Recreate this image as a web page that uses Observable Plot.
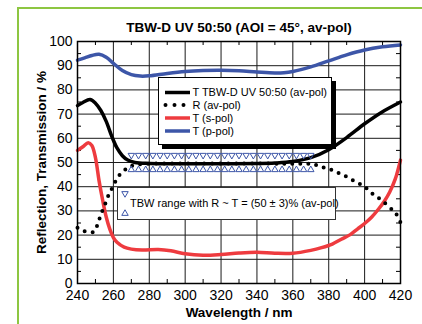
<!DOCTYPE html>
<html>
<head>
<meta charset="utf-8">
<script src="https://cdn.jsdelivr.net/npm/d3@7"></script>
<script src="https://cdn.jsdelivr.net/npm/@observablehq/plot@0.6"></script>
<style>
  html, body { margin: 0; padding: 0; background: #fff; }
  #wrap { position: relative; width: 422px; height: 324px; overflow: hidden; font-family: "Liberation Sans", Arial, sans-serif; }
  #green { position: absolute; left: 17px; top: 7px; width: 500px; height: 400px; border-left: 2px solid #8dc641; border-top: 2px solid #8dc641; }
  #wrap svg { position: absolute; left: 0; top: 0; }
</style>
</head>
<body>
<div id="wrap"><div id="green"></div></div>
<script>
// ---- Data ----
const TITLE = "TBW-D UV 50:50 (AOI = 45°, av-pol)";
const X_LABEL = "Wavelength / nm";
const Y_LABEL = "Reflection, Transmission / %";
const X_TICKS = [240, 260, 280, 300, 320, 340, 360, 380, 400, 420];
const Y_TICKS = [0, 10, 20, 30, 40, 50, 60, 70, 80, 90, 100];
const X_MINOR = [250, 270, 290, 310, 330, 350, 370, 390, 410];
const Y_MINOR = [5, 15, 25, 35, 45, 55, 65, 75, 85, 95];

// T TBW-D UV 50:50 (av-pol)
const tWl = [240, 243, 247, 250, 253, 256, 259, 262, 265, 268, 272, 280, 300, 320, 340, 350, 360, 370, 380, 390, 400, 410, 420];
const tAv = [73.5, 74.8, 76, 74.5, 71.5, 67, 61, 56, 52.8, 51, 50, 49.6, 49.5, 49.5, 49.6, 49.8, 50.4, 52, 55.3, 60.3, 66, 71, 75];

// R (av-pol)
const rWl = [240, 242, 245, 249, 251, 253, 255, 257, 259, 261, 263, 265, 268, 272, 280, 300, 330, 360, 368, 372, 376, 380, 384, 388, 392, 396, 400, 404, 408, 412, 416, 418, 420];
const rAv = [23, 22.3, 21.3, 21.3, 24, 28.5, 32, 36, 39, 42, 44.5, 46, 47.8, 49, 49.5, 49.6, 49.6, 49.5, 49.5, 49.2, 48.1, 47.5, 46.1, 44.9, 43.2, 41.7, 40, 37.3, 35.2, 32.8, 30, 28.3, 25.3];

// T (s-pol)
const sWl = [240, 243, 246, 248, 250, 252, 254, 256, 258, 260, 262, 266, 270, 276, 285, 292, 300, 310, 320, 330, 340, 350, 360, 370, 376, 382, 387, 392, 396, 400, 404, 408, 411, 414, 417, 420];
const sT = [55, 56.5, 58.2, 57, 52, 42.5, 34.5, 27.5, 22.5, 19, 17, 15, 14.2, 13.8, 14, 13.5, 12.3, 11.7, 12, 12.6, 12.9, 12.5, 12.5, 13.7, 14.8, 16.3, 18.3, 20.2, 22.5, 24.8, 27.5, 31, 34, 37.8, 43, 51];

// T (p-pol)
const pWl = [240, 244, 248, 252, 256, 260, 265, 270, 275, 280, 290, 300, 310, 320, 330, 340, 350, 355, 360, 370, 380, 390, 400, 410, 420];
const pT = [92.3, 93.2, 94.2, 94.7, 93.5, 91, 88, 86.3, 85.7, 85.8, 86.8, 87.6, 88, 88.1, 87.9, 87.4, 87, 87.1, 87.6, 89.5, 92, 94.5, 96.5, 97.8, 98.6];

// TBW range markers (R ~ T = 50 ± 3 %)
const tbwWl = [270, 274, 278, 282, 286, 290, 294, 298, 302, 306, 310, 314, 318, 322, 326, 330, 334, 338, 342, 346, 350, 354, 358, 362, 366, 370];
const tbwUpper = 53;
const tbwLower = 47;

const LEGEND1 = ["T TBW-D UV 50:50 (av-pol)", "R (av-pol)", "T (s-pol)", "T (p-pol)"];
const LEGEND2 = "TBW range with R ~ T = (50 ± 3)% (av-pol)";

// ---- Build tables ----
const zip = (xs, ys) => xs.map((x, i) => ({x, y: ys[i]}));
const tData = zip(tWl, tAv);
const rData = zip(rWl, rAv);
const sData = zip(sWl, sT);
const pData = zip(pWl, pT);
const upData = tbwWl.map(x => ({x, y: tbwUpper}));
const loData = tbwWl.map(x => ({x, y: tbwLower}));

const BLUE = "#3d56a8";
const RED = "#ee3b3f";
const GRID = "#1a1a1a";

const chart = Plot.plot({
  width: 422,
  height: 324,
  marginLeft: 77,
  marginRight: 22,
  marginTop: 41,
  marginBottom: 41,
  style: {fontFamily: "'Liberation Sans', Arial, sans-serif", fontSize: "14px", color: "#000", background: "transparent"},
  x: {domain: [240, 420]},
  y: {domain: [0, 100]},
  marks: [
    Plot.ruleX(X_TICKS.slice(1, -1), {stroke: GRID, strokeWidth: 1}),
    Plot.ruleY(Y_TICKS.slice(1, -1), {stroke: GRID, strokeWidth: 1}),
    Plot.ruleX(X_MINOR, {x: d => d, y1: 0, y2: 0, insetTop: -4, stroke: "#000", strokeWidth: 1}),
    Plot.ruleX(X_MINOR, {x: d => d, y1: 100, y2: 100, insetBottom: -4, stroke: "#000", strokeWidth: 1}),
    Plot.ruleY(Y_MINOR, {y: d => d, x1: 240, x2: 240, insetRight: -4, stroke: "#000", strokeWidth: 1}),
    Plot.ruleY(Y_MINOR, {y: d => d, x1: 420, x2: 420, insetLeft: -4, stroke: "#000", strokeWidth: 1}),
    Plot.axisX(X_TICKS, {tickSize: 0, tickPadding: 7, fontSize: 14, label: null}),
    Plot.axisY(Y_TICKS, {tickSize: 0, tickPadding: 5, fontSize: 14, label: null}),
    Plot.line(pData, {x: "x", y: "y", stroke: BLUE, strokeWidth: 3.5, curve: "catmull-rom"}),
    Plot.line(sData, {x: "x", y: "y", stroke: RED, strokeWidth: 3.5, curve: "catmull-rom"}),
    Plot.line(tData, {x: "x", y: "y", stroke: "#000", strokeWidth: 3.5, curve: "catmull-rom"}),
    Plot.line(rData, {x: "x", y: "y", stroke: "#000", strokeWidth: 4, strokeDasharray: "0 8", strokeLinecap: "round", curve: "catmull-rom"}),
    Plot.dot(upData, {x: "x", y: "y", symbol: "triangle", rotate: 180, r: 2.4, stroke: BLUE, strokeWidth: 1, fill: "none"}),
    Plot.dot(loData, {x: "x", y: "y", symbol: "triangle", r: 2.4, stroke: BLUE, strokeWidth: 1, fill: "none"}),
    Plot.frame({stroke: "#000", strokeWidth: 1.5}),
    Plot.text([TITLE], {frameAnchor: "top", dy: -14, fontSize: 13.5, fontWeight: "bold", lineAnchor: "middle"}),
    Plot.text([X_LABEL], {frameAnchor: "bottom", dy: 29, fontSize: 13.5, fontWeight: "bold", lineAnchor: "middle"}),
    Plot.text([Y_LABEL], {frameAnchor: "left", dx: -36, rotate: -90, textAnchor: "middle", fontSize: 13.5, fontWeight: "bold", lineAnchor: "middle"})
  ]
});

document.getElementById("wrap").appendChild(chart);

// ---- Legends ----
const svg = d3.select(chart);
const g1 = svg.append("g").attr("font-size", 11).attr("text-anchor", "start").attr("font-family", "'Liberation Sans', Arial, sans-serif");
g1.append("rect").attr("x", 162).attr("y", 81).attr("width", 174).attr("height", 68).attr("fill", "#000");
g1.append("rect").attr("x", 158.5).attr("y", 77.5).attr("width", 173).attr("height", 67).attr("fill", "#fff").attr("stroke", "#000").attr("stroke-width", 1);
const rowsY = [92.5, 105, 118, 131];
const rowStyles = [
  {stroke: "#000", dash: null, w: 3.5},
  {stroke: "#000", dash: "0 9", w: 4},
  {stroke: RED, dash: null, w: 3.5},
  {stroke: BLUE, dash: null, w: 3.5}
];
LEGEND1.forEach((label, i) => {
  const st = rowStyles[i];
  const ln = g1.append("line").attr("x1", i === 1 ? 165.5 : 165).attr("x2", i === 1 ? 184 : 190)
    .attr("y1", rowsY[i]).attr("y2", rowsY[i]).attr("stroke", st.stroke).attr("stroke-width", st.w);
  if (st.dash) ln.attr("stroke-dasharray", st.dash).attr("stroke-linecap", "round");
  g1.append("text").attr("x", 192.5).attr("y", rowsY[i]).attr("dy", "0.35em").text(label);
});

const g2 = svg.append("g").attr("font-size", 11).attr("text-anchor", "start").attr("font-family", "'Liberation Sans', Arial, sans-serif");
g2.append("rect").attr("x", 117.5).attr("y", 187.5).attr("width", 218).attr("height", 32).attr("fill", "#fff").attr("stroke", "#333").attr("stroke-width", 1);
const tri = d3.symbol(d3.symbolTriangle, Math.PI * 2.4 * 2.4);
g2.append("path").attr("d", tri()).attr("transform", "translate(125,193.5) rotate(180)").attr("fill", "none").attr("stroke", BLUE).attr("stroke-width", 1);
g2.append("path").attr("d", tri()).attr("transform", "translate(125,213.5)").attr("fill", "none").attr("stroke", BLUE).attr("stroke-width", 1);
g2.append("text").attr("x", 130).attr("y", 203).attr("dy", "0.35em").text(LEGEND2);
</script>
</body>
</html>
